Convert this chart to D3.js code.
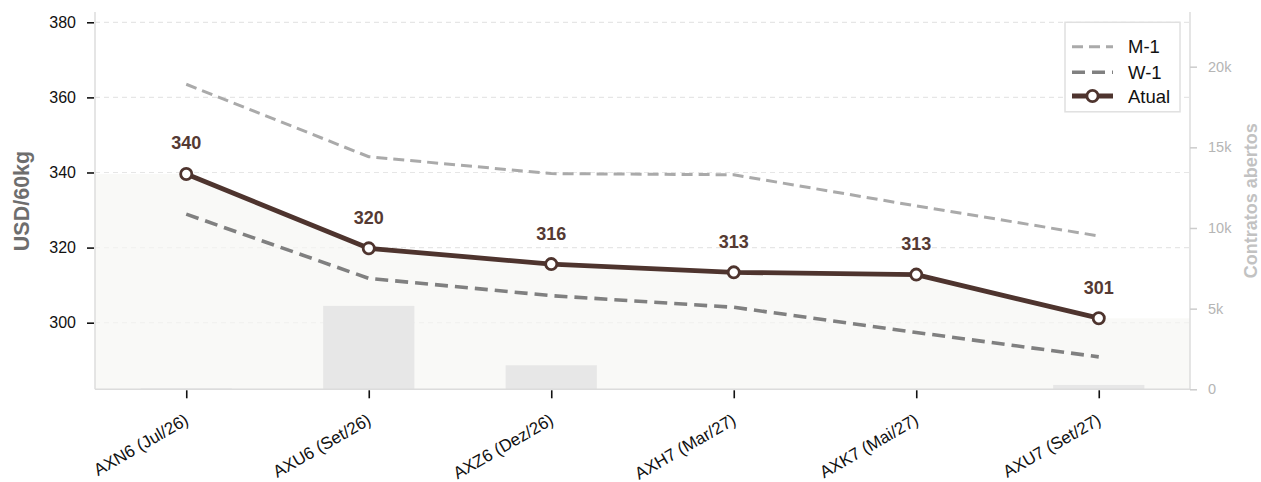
<!DOCTYPE html>
<html>
<head>
<meta charset="utf-8">
<script src="https://cdn.jsdelivr.net/npm/d3@7"></script>
<style>
  html, body { margin: 0; padding: 0; background: #fff; }
  svg { display: block; font-family: "Liberation Sans", Arial, Helvetica, sans-serif; }
</style>
</head>
<body>
<svg id="chart" width="1261" height="482"></svg>
<script>
// Contract months along the curve
const contracts = ["AXN6 (Jul/26)", "AXU6 (Set/26)", "AXZ6 (Dez/26)", "AXH7 (Mar/27)", "AXK7 (Mai/27)", "AXU7 (Set/27)"];
// Settlement prices, USD/60kg
const atual = [339.6, 319.8, 315.6, 313.4, 312.8, 301.2];
const semanaAnterior = [328.9, 311.8, 307.2, 304.1, 297.4, 290.9];   // W-1
const mesAnterior = [363.5, 344.2, 339.7, 339.4, 331.1, 323.1];      // M-1
// Open interest per contract
const contratosAbertos = [60, 5170, 1490, 0, 0, 270];
// Axis ticks
const priceTicks = [300, 320, 340, 360, 380];
const oiTicks = [0, 5000, 10000, 15000, 20000];
const oiTickLabels = ["0", "5k", "10k", "15k", "20k"];

const svg = d3.select("#chart");
const plotLeft = 95, plotRight = 1190, plotTop = 12, plotBottom = 389.3;

const x = d3.scaleLinear().domain([-0.5, contracts.length - 0.5]).range([plotLeft, plotRight]);
const y = d3.scaleLinear().domain([282.26, 382.74]).range([plotBottom, plotTop]);
const y2 = d3.scaleLinear().domain([0, 23390]).range([plotBottom, plotTop]);

const brown = "#4e342e";

// Horizontal grid
svg.append("g").selectAll("line").data(priceTicks).join("line")
  .attr("x1", plotLeft).attr("x2", plotRight)
  .attr("y1", d => y(d)).attr("y2", d => y(d))
  .attr("stroke", "#e6e6e6").attr("stroke-width", 1.2)
  .attr("stroke-dasharray", "5,4");

// Soft area beneath the current curve, extended to the plot edges
const areaPts = [[-0.5, atual[0]]].concat(atual.map((v, i) => [i, v]), [[contracts.length - 0.5, atual[atual.length - 1]]]);
svg.append("path")
  .datum(areaPts)
  .attr("d", d3.area().x(d => x(d[0])).y0(plotBottom).y1(d => y(d[1])))
  .attr("fill", "#f6f6f3").attr("opacity", 0.7);

// Open interest bars (secondary axis)
svg.append("g").selectAll("rect").data(contratosAbertos).join("rect")
  .attr("x", (d, i) => x(i - 0.25))
  .attr("width", x(0.25) - x(-0.25))
  .attr("y", d => y2(d))
  .attr("height", d => plotBottom - y2(d))
  .attr("fill", "#e7e7e7");

// Spines
const spine = "#dcdcdc";
svg.append("line").attr("x1", plotLeft).attr("x2", plotLeft).attr("y1", plotTop).attr("y2", plotBottom)
  .attr("stroke", spine).attr("stroke-width", 1.5);
svg.append("line").attr("x1", plotLeft).attr("x2", plotRight).attr("y1", plotBottom).attr("y2", plotBottom)
  .attr("stroke", spine).attr("stroke-width", 1.5);
svg.append("line").attr("x1", plotRight).attr("x2", plotRight).attr("y1", plotTop).attr("y2", plotBottom)
  .attr("stroke", spine).attr("stroke-width", 1.5);

// Left axis
const yAxis = svg.append("g").attr("transform", `translate(${plotLeft - 1},0)`)
  .call(d3.axisLeft(y).tickValues(priceTicks).tickSize(7).tickPadding(11).tickFormat(d3.format("d")));
yAxis.select(".domain").remove();
yAxis.selectAll(".tick line").attr("stroke", "#111").attr("stroke-width", 1.6);
yAxis.selectAll(".tick text").attr("fill", "#111").style("font-size", "16px")
  .style("font-family", "'Liberation Sans', Arial, sans-serif");

// Right axis (open interest)
const y2Axis = svg.append("g").attr("transform", `translate(${plotRight},0)`)
  .call(d3.axisRight(y2).tickValues(oiTicks).tickSize(7).tickPadding(11)
    .tickFormat((d, i) => oiTickLabels[i]));
y2Axis.select(".domain").remove();
y2Axis.selectAll(".tick line").attr("stroke", "#cccccc").attr("stroke-width", 1.5);
y2Axis.selectAll(".tick text").attr("fill", "#b5b5b5").style("font-size", "14.5px")
  .style("font-family", "'Liberation Sans', Arial, sans-serif");

// Bottom axis, labels slanted at 30 degrees
const xAxis = svg.append("g").attr("transform", `translate(0,${plotBottom + 1})`)
  .call(d3.axisBottom(x).tickValues(d3.range(contracts.length)).tickSize(8).tickFormat(i => contracts[i]));
xAxis.select(".domain").remove();
xAxis.selectAll(".tick line").attr("stroke", "#111").attr("stroke-width", 1.6);
xAxis.selectAll(".tick text")
  .attr("fill", "#111").style("font-size", "17px")
  .style("font-family", "'Liberation Sans', Arial, sans-serif")
  .attr("text-anchor", "end")
  .attr("dy", 0)
  .attr("y", 0)
  .attr("transform", "translate(3,33) rotate(-30)");

// Axis titles
svg.append("text")
  .attr("transform", `translate(28.5,201) rotate(-90)`)
  .attr("text-anchor", "middle")
  .attr("fill", "#6e6e6e").style("font-size", "21.5px").style("font-weight", "bold")
  .text("USD/60kg");
svg.append("text")
  .attr("transform", `translate(1251,${(plotTop + plotBottom) / 2}) rotate(-90)`)
  .attr("text-anchor", "middle").attr("dy", "0.35em")
  .attr("fill", "#c2c2c2").style("font-size", "18px").style("font-weight", "bold")
  .text("Contratos abertos");

// Reference curves
const line = d3.line().x((d, i) => x(i)).y(d => y(d));
svg.append("path").datum(mesAnterior).attr("d", line)
  .attr("fill", "none").attr("stroke", "#aaaaaa").attr("stroke-width", 3)
  .attr("stroke-dasharray", "11,6");
svg.append("path").datum(semanaAnterior).attr("d", line)
  .attr("fill", "none").attr("stroke", "#808080").attr("stroke-width", 3.6)
  .attr("stroke-dasharray", "13,7");

// Current curve
svg.append("path").datum(atual).attr("d", line)
  .attr("fill", "none").attr("stroke", brown).attr("stroke-width", 4.8)
  .attr("stroke-linejoin", "round");
svg.append("g").selectAll("circle").data(atual).join("circle")
  .attr("cx", (d, i) => x(i)).attr("cy", d => y(d)).attr("r", 5.6)
  .attr("fill", "#fff").attr("stroke", brown).attr("stroke-width", 2.8);

// Value labels
svg.append("g").selectAll("text").data(atual).join("text")
  .attr("x", (d, i) => x(i)).attr("y", d => y(d) - 24.5)
  .attr("text-anchor", "middle")
  .attr("fill", "#553a33").style("font-size", "18px").style("font-weight", "bold")
  .text(d => d3.format(".0f")(d));

// Legend
const lg = svg.append("g");
lg.append("rect").attr("x", 1065).attr("y", 22.3).attr("width", 115).attr("height", 89.5)
  .attr("fill", "#fff").attr("stroke", "#e0e0e0").attr("stroke-width", 1.5);
const legendItems = [
  { name: "M-1", color: "#aaaaaa", width: 3, dash: "11,6", cy: 46.7 },
  { name: "W-1", color: "#808080", width: 3.6, dash: "13,7", cy: 72.2 },
  { name: "Atual", color: brown, width: 4.8, dash: null, cy: 96 }
];
legendItems.forEach(it => {
  const l = lg.append("line").attr("x1", 1072).attr("x2", 1113)
    .attr("y1", it.cy).attr("y2", it.cy)
    .attr("stroke", it.color).attr("stroke-width", it.width);
  if (it.dash) l.attr("stroke-dasharray", it.dash);
  if (!it.dash) {
    lg.append("circle").attr("cx", 1092.5).attr("cy", it.cy).attr("r", 5.6)
      .attr("fill", "#fff").attr("stroke", brown).attr("stroke-width", 2.8);
  }
  lg.append("text").attr("x", 1128).attr("y", it.cy).attr("dy", "0.36em")
    .attr("fill", "#111").style("font-size", "18.5px").text(it.name);
});
</script>
</body>
</html>
